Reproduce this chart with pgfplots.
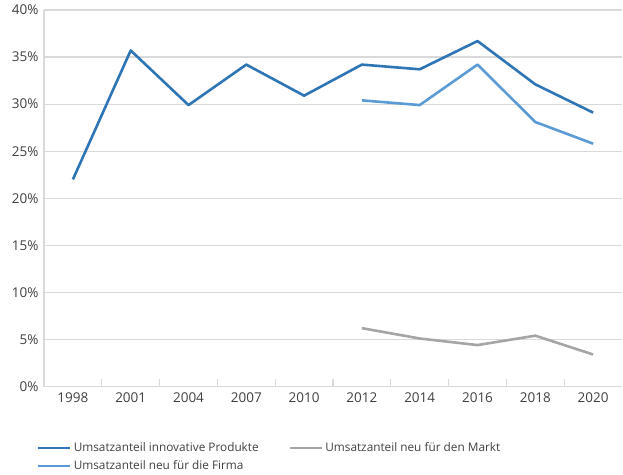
\documentclass[border=0pt]{standalone}
\usepackage{fontspec}
\setmainfont{Open Sans}
\usepackage{pgfplots}
\pgfplotsset{compat=1.18}

\definecolor{darkblue}{HTML}{2E75B6}
\definecolor{lightblue}{HTML}{5B9BD5}
\definecolor{midgray}{HTML}{A5A5A5}
\definecolor{gridgray}{HTML}{D9D9D9}
\definecolor{textgray}{HTML}{404040}

\begin{document}
\fontsize{13}{16}\selectfont
\begin{tikzpicture}
  \begin{axis}[
      at={(0,0)}, anchor=south west,
      scale only axis,
      width=578pt, height=376.5pt,
      xmin=-0.5, xmax=9.5,
      ymin=0, ymax=40,
      axis x line*=bottom,
      axis y line*=left,
      axis line style={gridgray, line width=1.5pt},
      xtick={0,...,9},
      xticklabels={1998,2001,2004,2007,2010,2012,2014,2016,2018,2020},
      minor xtick={0.5,1.5,...,8.5},
      major tick length=0pt,
      minor tick length=8pt,
      tick align=inside,
      minor tick style={gridgray, line width=1.2pt},
      ytick={0,5,...,40},
      yticklabel={\pgfmathprintnumber{\tick}\%},
      ymajorgrids,
      grid style={gridgray, line width=1.2pt},
      tick label style={font=\fontsize{13.5}{16}\selectfont, text=textgray},
      /pgf/number format/assume math mode=true,
      xticklabel style={yshift=-2pt},
      yticklabel style={xshift=-1pt},
      legend columns=2,
      legend cell align=left,
      legend style={
        draw=none, fill=none,
        at={(0,0)}, anchor=north west,
        xshift=-10pt, yshift=-52pt,
        font=\fontsize{11.8}{15}\selectfont,
        text=textgray,
        row sep=3pt,
        /tikz/every even column/.append style={column sep=28pt},
      },
      legend image code/.code={\draw[#1] (0pt,0pt) -- (32pt,0pt);},
      every axis plot/.append style={line width=2.6pt, line join=round},
    ]
    \addplot[darkblue] coordinates {
      (0,22.0) (1,35.7) (2,29.9) (3,34.2) (4,30.9)
      (5,34.2) (6,33.7) (7,36.7) (8,32.1) (9,29.1)
    };
    \addlegendentry{Umsatzanteil innovative Produkte}
    \addplot[midgray] coordinates {
      (5,6.2) (6,5.1) (7,4.4) (8,5.4) (9,3.4)
    };
    \addlegendentry{Umsatzanteil neu für den Markt}
    \addplot[lightblue] coordinates {
      (5,30.4) (6,29.9) (7,34.2) (8,28.1) (9,25.8)
    };
    \addlegendentry{Umsatzanteil neu für die Firma}
  \end{axis}
  \pgfresetboundingbox
  \path (-44pt,-87.5pt) rectangle (579pt,386.5pt);
\end{tikzpicture}
\end{document}
